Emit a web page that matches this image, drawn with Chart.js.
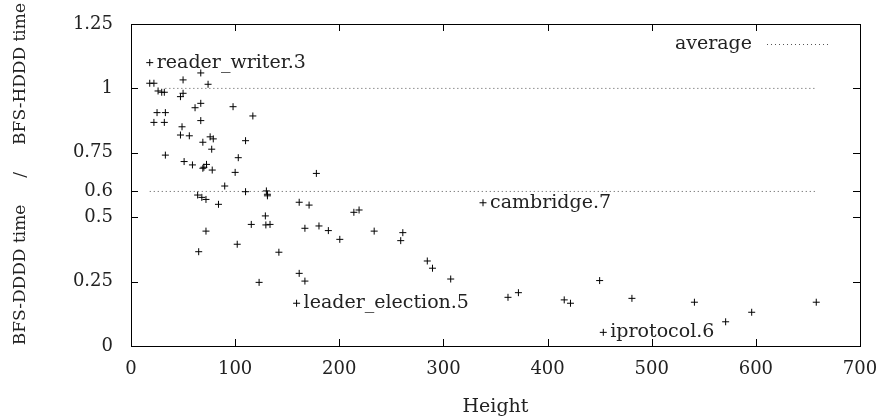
<!DOCTYPE html>
<html>
<head>
<meta charset="utf-8">
<script src="https://cdn.jsdelivr.net/npm/chart.js@4"></script>
<style>
  html, body { margin: 0; padding: 0; background: #fff; }
</style>
</head>
<body>
<canvas id="myChart" width="887" height="419"></canvas>
<script>
// height of the state graph vs. time ratio
const heights = [18, 67, 18, 22, 50, 74, 26, 29.5, 32, 50, 47.5, 67, 61.5, 98, 117, 25, 33, 22, 32, 67,
  49, 47.5, 56, 76, 79, 69, 110, 77.5, 33, 103, 51, 59, 72.5, 70, 69, 78, 100, 90, 64, 68,
  72, 110, 130, 131, 131, 84, 129, 115.5, 129.5, 133.5, 72, 102, 65, 142, 123, 178, 161.5, 171, 214, 219,
  167, 180.5, 189.5, 200.5, 233.5, 261, 259, 284.5, 289.5, 307, 161.5, 167, 159, 362, 372, 416, 422, 450, 481, 541,
  596, 658, 453.5, 571, 338];
const ratios = [1.10, 1.06, 1.02, 1.02, 1.033, 1.016, 0.99, 0.985, 0.985, 0.981, 0.968, 0.942, 0.925, 0.929, 0.893, 0.906, 0.906, 0.868, 0.868, 0.875,
  0.851, 0.819, 0.816, 0.812, 0.804, 0.791, 0.797, 0.764, 0.741, 0.731, 0.716, 0.703, 0.705, 0.694, 0.690, 0.683, 0.674, 0.621, 0.586, 0.577,
  0.569, 0.599, 0.602, 0.589, 0.583, 0.550, 0.505, 0.472, 0.470, 0.472, 0.446, 0.395, 0.366, 0.364, 0.247, 0.670, 0.558, 0.547, 0.519, 0.528,
  0.457, 0.466, 0.448, 0.414, 0.446, 0.440, 0.409, 0.330, 0.302, 0.260, 0.282, 0.252, 0.166, 0.189, 0.207, 0.179, 0.166, 0.254, 0.185, 0.170,
  0.131, 0.170, 0.053, 0.094, 0.556];

// named points (index into the arrays above)
const labelNames = ['reader_writer.3', 'leader_election.5', 'iprotocol.6', 'cambridge.7'];
const labelIndex = [0, 72, 82, 84];

const avgValue = 0.6;
const avgX = [18, 658];
const refValue = 1;
const refX = [33, 658];

const yTicks = [0, 0.25, 0.5, 0.6, 0.75, 1, 1.25];
const xTicks = [0, 100, 200, 300, 400, 500, 600, 700];

const serif = "'DejaVu Serif', serif";
const ink = '#222';

const points = heights.map((h, i) => ({ x: h, y: ratios[i] }));

const framePlugin = {
  id: 'frame',
  afterDraw(chart) {
    const { ctx, chartArea: a, scales } = chart;
    ctx.save();
    ctx.strokeStyle = '#000';
    ctx.lineWidth = 1;
    ctx.strokeRect(a.left + 0.5, a.top + 0.5, a.right - a.left, a.bottom - a.top);
    const tl = 7;
    ctx.beginPath();
    xTicks.forEach(v => {
      const px = Math.round(scales.x.getPixelForValue(v)) + 0.5;
      ctx.moveTo(px, a.bottom); ctx.lineTo(px, a.bottom - tl);
      ctx.moveTo(px, a.top); ctx.lineTo(px, a.top + tl);
    });
    yTicks.forEach(v => {
      const py = Math.round(scales.y.getPixelForValue(v)) + 0.5;
      ctx.moveTo(a.left, py); ctx.lineTo(a.left + tl, py);
      ctx.moveTo(a.right, py); ctx.lineTo(a.right - tl, py);
    });
    ctx.stroke();

    // key
    ctx.fillStyle = ink;
    ctx.font = '19px ' + serif;
    ctx.textAlign = 'right';
    ctx.textBaseline = 'middle';
    ctx.fillText('average', a.right - 108, a.top + 20);
    ctx.strokeStyle = '#555';
    ctx.setLineDash([1, 3]);
    ctx.beginPath();
    ctx.moveTo(a.right - 93, a.top + 20.5);
    ctx.lineTo(a.right - 31, a.top + 20.5);
    ctx.stroke();
    ctx.restore();
  }
};

const labelPlugin = {
  id: 'pointLabels',
  afterDatasetsDraw(chart) {
    const { ctx, scales } = chart;
    ctx.save();
    ctx.fillStyle = ink;
    ctx.font = '19px ' + serif;
    ctx.textAlign = 'left';
    ctx.textBaseline = 'middle';
    labelNames.forEach((name, k) => {
      const i = labelIndex[k];
      const px = scales.x.getPixelForValue(heights[i]);
      const py = scales.y.getPixelForValue(ratios[i]);
      ctx.fillText(name, px + 7, py);
    });
    ctx.restore();
  }
};

const config = {
  type: 'scatter',
  data: {
    datasets: [
      {
        label: 'ratio',
        data: points,
        pointStyle: 'cross',
        pointRadius: 3.5,
        pointBorderWidth: 1,
        borderColor: '#000',
        backgroundColor: '#000'
      },
      {
        label: 'average',
        data: avgX.map(x => ({ x: x, y: avgValue })),
        showLine: true,
        pointRadius: 0,
        borderColor: '#555',
        borderWidth: 1,
        borderDash: [1, 3]
      },
      {
        label: 'reference',
        data: refX.map(x => ({ x: x, y: refValue })),
        showLine: true,
        pointRadius: 0,
        borderColor: '#555',
        borderWidth: 1,
        borderDash: [1, 3]
      }
    ]
  },
  options: {
    responsive: false,
    animation: false,
    devicePixelRatio: 1,
    layout: { padding: { top: 24, right: 27, left: 0, bottom: 0 } },
    plugins: {
      legend: { display: false },
      tooltip: { enabled: false }
    },
    scales: {
      x: {
        type: 'linear',
        min: 0,
        max: 700,
        afterBuildTicks: axis => { axis.ticks = xTicks.map(v => ({ value: v })); },
        afterFit: scale => { scale.height = 73; },
        grid: { color: 'transparent', drawTicks: true, tickLength: 10 },
        border: { display: false },
        ticks: { color: ink, font: { family: serif, size: 18 }, padding: 3, callback: v => String(v) },
        title: { display: true, text: 'Height', color: ink, font: { family: serif, size: 19 }, padding: { top: 0, bottom: 1 } }
      },
      y: {
        type: 'linear',
        min: 0,
        max: 1.25,
        afterBuildTicks: axis => { axis.ticks = yTicks.map(v => ({ value: v })); },
        afterFit: scale => { scale.width = 131; },
        grid: { color: 'transparent', drawTicks: true, tickLength: 14 },
        border: { display: false },
        ticks: { color: ink, font: { family: serif, size: 18 }, padding: 4, callback: v => String(v) },
        title: {
          display: true,
          text: '\u00a0\u00a0\u00a0\u00a0BFS-DDDD time\u00a0\u00a0\u00a0\u00a0\u00a0/\u00a0\u00a0\u00a0\u00a0\u00a0BFS-HDDD time',
          color: ink,
          font: { family: serif, size: 17 },
          padding: { top: 10, bottom: 0 }
        }
      }
    }
  },
  plugins: [framePlugin, labelPlugin]
};

const myChart = new Chart(document.getElementById('myChart'), config);
</script>
</body>
</html>
